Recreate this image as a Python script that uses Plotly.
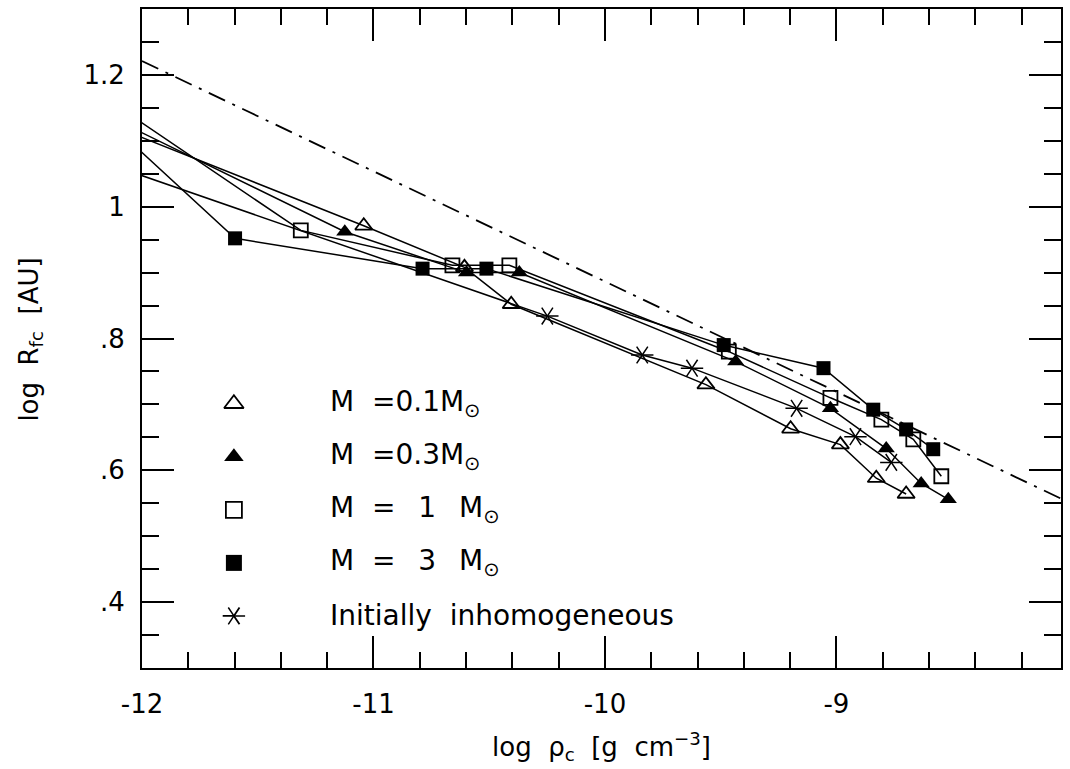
import plotly.graph_objects as go

# ---------------- data ----------------
# first point of every series lies left of the plotted range (x < -12)
x_m01 = [-12.5, -11.042, -10.607, -10.405, -9.564, -9.198, -8.983, -8.828, -8.699]
y_m01 = [1.175, 0.971, 0.908, 0.852, 0.730, 0.663, 0.639, 0.588, 0.564]

x_m03 = [-12.5, -11.124, -10.598, -10.370, -9.435, -9.026, -8.785, -8.634, -8.517]
y_m03 = [1.198, 0.962, 0.900, 0.900, 0.765, 0.694, 0.633, 0.580, 0.556]

x_m1 = [-12.5, -11.314, -10.659, -10.413, -9.465, -9.026, -8.806, -8.668, -8.547]
y_m1 = [1.246, 0.964, 0.911, 0.911, 0.780, 0.710, 0.677, 0.647, 0.591]

x_m3 = [-12.5, -11.598, -10.788, -10.512, -9.487, -9.056, -8.841, -8.699, -8.582]
y_m3 = [1.244, 0.952, 0.906, 0.906, 0.790, 0.755, 0.692, 0.662, 0.632]

x_inh = [-12.5, -10.249, -9.839, -9.624, -9.172, -8.918, -8.763]
y_inh = [1.108, 0.834, 0.775, 0.755, 0.694, 0.651, 0.612]

x_ref = [-12.0, -8.03]
y_ref = [1.221, 0.557]

x_tickvals = [-12, -11, -10, -9]
x_ticktext = ["-12", "-11", "-10", "-9"]
y_tickvals = [0.4, 0.6, 0.8, 1.0, 1.2]
y_ticktext = [".4", ".6", ".8", "1", "1.2"]

legend_labels = [
    "M\u00a0\u00a0=0.1M<sub>\u2299</sub>",
    "M\u00a0\u00a0=0.3M<sub>\u2299</sub>",
    "M\u00a0\u00a0=\u2002\u00a01\u2002\u00a0M<sub>\u2299</sub>",
    "M\u00a0\u00a0=\u2002\u00a03\u2002\u00a0M<sub>\u2299</sub>",
    "Initially\u00a0\u00a0inhomogeneous",
]

# ---------------- styling ----------------
FONT = "DejaVu Sans"
LW = 1.5
BLACK = "black"

fig = go.Figure()

series = [
    (x_m01, y_m01, dict(symbol="triangle-up-open", size=15, color=BLACK, line=dict(width=1.8, color=BLACK))),
    (x_m03, y_m03, dict(symbol="triangle-up", size=15, color=BLACK, line=dict(width=0))),
    (x_m1, y_m1, dict(symbol="square-open", size=14, color=BLACK, line=dict(width=1.8, color=BLACK))),
    (x_m3, y_m3, dict(symbol="square", size=14, color=BLACK, line=dict(width=0))),
]
for xs, ys, mk in series:
    fig.add_trace(go.Scatter(x=xs, y=ys, mode="lines+markers",
                             line=dict(color=BLACK, width=LW), marker=mk,
                             showlegend=False, hoverinfo="skip"))

# inhomogeneous: six-armed asterisk built from two Y symbols
fig.add_trace(go.Scatter(x=x_inh, y=y_inh, mode="lines+markers",
                         line=dict(color=BLACK, width=LW),
                         marker=dict(symbol="y-left-open", size=14, color=BLACK,
                                     line=dict(width=1.5, color=BLACK)),
                         showlegend=False, hoverinfo="skip"))
fig.add_trace(go.Scatter(x=x_inh, y=y_inh, mode="markers",
                         marker=dict(symbol="y-right-open", size=14, color=BLACK,
                                     line=dict(width=1.5, color=BLACK)),
                         showlegend=False, hoverinfo="skip"))

# dash-dot reference line
fig.add_trace(go.Scatter(x=x_ref, y=y_ref, mode="lines",
                         line=dict(color=BLACK, width=1.8, dash="18px,8px,3px,8px"),
                         showlegend=False, hoverinfo="skip"))

# ---------------- hand-made legend (on an overlay 0..1 axis pair) ----------------
LEG_SYM_X = 0.100
LEG_TEXT_X = 0.202
LEG_Y0 = 0.401
LEG_DY = 0.0805
leg_symbols = ["triangle-up-open", "triangle-up", "square-open", "square", "y-left-open"]
leg_sizes = [17, 17, 16, 16, 14]
for i, (sym, sz) in enumerate(zip(leg_symbols, leg_sizes)):
    yy = LEG_Y0 - i * LEG_DY
    fig.add_trace(go.Scatter(x=[LEG_SYM_X], y=[yy], xaxis="x2", yaxis="y2", mode="markers",
                             marker=dict(symbol=sym, size=sz, color=BLACK,
                                         line=dict(width=1.8 if "open" in sym else 0, color=BLACK)),
                             showlegend=False, hoverinfo="skip"))
    if sym == "y-left-open":
        fig.add_trace(go.Scatter(x=[LEG_SYM_X], y=[yy], xaxis="x2", yaxis="y2", mode="markers",
                                 marker=dict(symbol="y-right-open", size=sz, color=BLACK,
                                             line=dict(width=1.5, color=BLACK)),
                                 showlegend=False, hoverinfo="skip"))
    fig.add_annotation(x=LEG_TEXT_X, y=yy, xref="paper", yref="paper",
                       text=legend_labels[i], showarrow=False, xanchor="left", yanchor="middle",
                       font=dict(family=FONT, size=28, color=BLACK))

# axis titles
fig.add_annotation(x=0.5, y=-0.119, xref="paper", yref="paper",
                   text="log\u00a0\u00a0\u03c1<sub>c</sub>\u00a0\u00a0[g\u00a0\u00a0cm<sup>\u22123</sup>]",
                   showarrow=False, xanchor="center", yanchor="middle",
                   font=dict(family=FONT, size=26, color=BLACK))
fig.add_annotation(x=-0.1223, y=0.4977, xref="paper", yref="paper",
                   text="log\u00a0\u00a0R<sub>fc</sub>\u00a0\u00a0[AU]", textangle=-90,
                   showarrow=False, xanchor="center", yanchor="middle",
                   font=dict(family=FONT, size=26, color=BLACK))

axis_common = dict(showline=True, linecolor=BLACK, linewidth=2, mirror="ticks",
                   ticks="inside", ticklen=32, tickwidth=2, tickcolor=BLACK,
                   showgrid=False, zeroline=False,
                   tickfont=dict(family=FONT, size=26, color=BLACK))

fig.update_layout(
    width=1070, height=769,
    margin=dict(l=142, r=7, t=7, b=101),
    paper_bgcolor="white", plot_bgcolor="white",
    showlegend=False,
    xaxis=dict(range=[-12, -8.03], tickvals=x_tickvals, ticktext=x_ticktext,
               ticklabelstandoff=12,
               minor=dict(ticks="inside", ticklen=16, tickwidth=2, tickcolor=BLACK,
                          tick0=-12, dtick=0.2, showgrid=False),
               **axis_common),
    yaxis=dict(range=[0.3, 1.3], tickvals=y_tickvals, ticktext=y_ticktext,
               ticklabelstandoff=10,
               minor=dict(ticks="inside", ticklen=17, tickwidth=2, tickcolor=BLACK,
                          tick0=0.3, dtick=0.05, showgrid=False),
               **axis_common),
    xaxis2=dict(overlaying="x", range=[0, 1], visible=False),
    yaxis2=dict(overlaying="y", range=[0, 1], visible=False),
)

fig.write_html("out.html")
